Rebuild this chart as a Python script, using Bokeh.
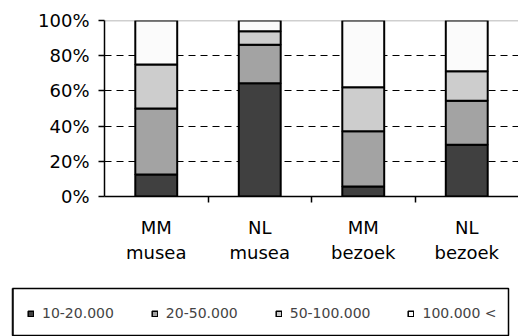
from bokeh.plotting import figure
from bokeh.models import (FixedTicker, PrintfTickFormatter, Span, Legend, LegendItem, Range1d, ColumnDataSource)
from bokeh.embed import file_html
from bokeh.resources import INLINE

groups = ["MM\nmusea", "NL\nmusea", "MM\nbezoek", "NL\nbezoek"]
series = ["10-20.000", "20-50.000", "50-100.000", "100.000 <"]
s1 = [12.5, 64.4, 5.7, 29.4]
s2 = [37.5, 21.8, 31.4, 25.0]
s3 = [25.0, 7.7, 25.0, 16.8]
s4 = [25.0, 6.1, 37.9, 28.8]
y_ticks = [0, 20, 40, 60, 80, 100]

colors = ["#404040", "#a3a3a3", "#cdcdcd", "#fbfbfb"]
FONT = "DejaVu Sans"

xpos = [i + 0.5 for i in range(len(groups))]
src = ColumnDataSource(dict(x=xpos, a=s1, b=s2, c=s3, d=s4))

p = figure(width=518, height=276, output_backend="svg", toolbar_location=None,
           x_range=Range1d(0, len(groups)), y_range=Range1d(0, 100),
           min_border_left=104, min_border_right=0, min_border_top=20, min_border_bottom=80)
p.outline_line_color = None
p.border_fill_color = "white"

p.xgrid.visible = False
p.ygrid.ticker = FixedTicker(ticks=[20, 40, 60, 80])
p.ygrid.grid_line_color = "black"
p.ygrid.grid_line_dash = "7 5"
p.ygrid.grid_line_width = 1

top = Span(location=100, dimension="width", line_color="#a0a0a0", line_width=1.5, level="underlay")
p.add_layout(top)

r = p.vbar_stack(["a", "b", "c", "d"], x="x", width=0.405, source=src, color=colors,
                 line_color="black", line_width=2)

# y axis
ya = p.yaxis[0]
ya.ticker = FixedTicker(ticks=y_ticks)
ya.formatter = PrintfTickFormatter(format="%d%%")
ya.axis_line_color = "black"
ya.axis_line_width = 1.5
ya.major_tick_line_color = "black"
ya.major_tick_line_width = 1.5
ya.major_tick_out = 6
ya.major_tick_in = 0
ya.minor_tick_line_color = None
ya.major_label_text_font = FONT
ya.major_label_text_font_size = "18px"
ya.major_label_text_color = "black"
ya.major_label_standoff = 9

# x axis
xa = p.xaxis[0]
xa.ticker = FixedTicker(ticks=xpos, minor_ticks=[1, 2, 3])
xa.major_label_overrides = {x: g for x, g in zip(xpos, groups)}
xa.axis_line_color = "black"
xa.axis_line_width = 1.5
xa.major_tick_line_color = None
xa.minor_tick_line_color = "black"
xa.minor_tick_line_width = 1.5
xa.minor_tick_out = 6
xa.minor_tick_in = 0
xa.major_label_text_font = FONT
xa.major_label_text_font_size = "18px"
xa.major_label_text_color = "black"
xa.major_label_standoff = 14

# legend strip: its frame outline forms the legend box (same data, view range away from the bars)
q = figure(width=518, height=60, output_backend="svg", toolbar_location=None,
           x_range=Range1d(100, 101), y_range=Range1d(0, 1),
           x_axis_location=None, y_axis_location=None,
           min_border_left=12, min_border_right=10, min_border_top=12, min_border_bottom=0)
q.grid.visible = False
q.outline_line_color = "black"
q.outline_line_width = 1.5
rq = q.vbar_stack(["a", "b", "c", "d"], x="x", width=0.405, source=src, color=colors,
                  line_color="black", line_width=1.5)
legend = Legend(items=[LegendItem(label=s, renderers=[rr]) for s, rr in zip(series, rq)],
                orientation="horizontal", location=(15, 14),
                label_text_font=FONT, label_text_font_size="14px", label_height=18,
                glyph_width=7, glyph_height=7, label_standoff=8, spacing=37,
                padding=0, margin=0, border_line_color=None,
                background_fill_alpha=0)
q.add_layout(legend, "center")

open("out.html", "w").write(file_html([p, q], INLINE))
